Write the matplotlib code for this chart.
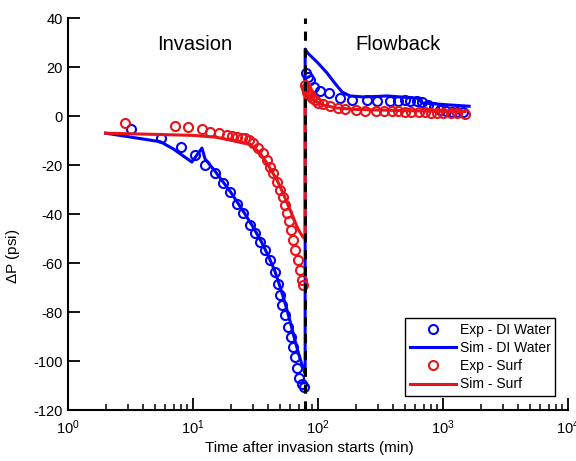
import numpy as np
import matplotlib
matplotlib.use('Agg')
import matplotlib.pyplot as plt

plt.rcParams['font.family'] = ['Liberation Sans', 'DejaVu Sans']
plt.rcParams['mathtext.default'] = 'regular'
plt.rcParams['axes.unicode_minus'] = False

t_switch = 79.0  # start of flowback (min)

# experimental, DI water
t_exp_di = [3.2, 5.5, 8.0, 10.4, 12.5, 15.0, 17.4, 19.8, 22.5, 25.0, 28.5, 31.3,
            34.3, 37.6, 41.3, 45.3, 47.5, 49.5, 52.0, 54.5, 57.5, 60.5, 63.0,
            65.5, 68.0, 71.0, 74.0, 77.0,
            80, 83, 86, 93, 103, 122, 150, 187, 247, 297, 377, 437, 497, 546,
            620, 680, 760, 850, 950, 1050, 1180, 1300, 1450]
p_exp_di = [-5.3, -8.8, -12.7, -15.9, -20.0, -23.3, -27.3, -31.0, -36.0, -39.6,
            -44.5, -47.8, -51.4, -54.7, -58.8, -63.7, -68.5, -73.1, -77.1, -81.2,
            -86.1, -90.2, -94.3, -98.4, -102.9, -106.9, -109.5, -110.6,
            17.5, 16.0, 14.5, 12.0, 10.2, 9.4, 7.3, 6.5, 6.5, 6.1, 6.1, 6.1, 6.5,
            6.1, 6.1, 5.7, 4.5, 3.5, 2.5, 2.0, 1.8, 1.6, 1.5]

# simulation, DI water
t_sim_di = [2, 5.5, 7, 9.8, 11.8, 12.5, 15, 20, 25, 30, 35, 40, 45, 50, 55, 60,
            65, 70, 75, 79,
            79.01, 82, 86, 98.5, 118, 136, 156, 180, 229, 300, 356, 453, 620,
            689, 893, 1140, 1620]
p_sim_di = [-7.0, -10.5, -13.5, -18.8, -13.1, -17.5, -22.5, -31.0, -38.5, -45.0,
            -51.0, -57.0, -63.0, -70.0, -77.0, -84.0, -91.0, -97.0, -102.0, -105.0,
            27.3, 26.0, 24.9, 22.0, 17.6, 13.5, 9.8, 8.2, 7.8, 8.0, 8.2, 7.8, 7.3,
            5.3, 4.9, 4.5, 4.0]

# experimental, surfactant
t_exp_surf = [2.86, 7.2, 9.1, 11.8, 13.7, 16.1, 18.7, 20.5, 22.5, 24.6, 26.0,
              28.0, 30.2, 33.1, 36.3, 39.0, 41.3, 43.6, 47.0, 49.7, 52.5, 54.5,
              56.5, 58.5, 60.5, 63.0, 66.0, 69.0, 71.8, 74.6, 76.5,
              79, 80, 81, 82, 83, 85, 87, 90, 94, 100, 110, 125, 145, 165, 200,
              240, 290, 340, 390, 440, 500, 560, 640, 720, 800, 900, 1000, 1150,
              1300, 1500]
p_exp_surf = [-2.9, -4.1, -4.5, -5.3, -6.5, -6.9, -7.8, -8.2, -8.6, -9.0, -9.0,
              -9.8, -11.0, -13.1, -15.1, -18.0, -20.8, -23.3, -26.9, -30.2, -33.1,
              -36.3, -39.6, -42.9, -46.5, -50.6, -54.7, -58.8, -62.9, -66.9, -69.0,
              12.5, 11.5, 10.5, 10.0, 9.5, 9.0, 8.5, 7.5, 6.5, 5.5, 4.8, 4.0, 3.3,
              2.8, 2.4, 2.2, 2.1, 2.0, 2.0, 1.9, 1.8, 1.7, 1.6, 1.5, 1.4, 1.3, 1.3,
              1.2, 1.1, 1.0]

# simulation, surfactant
t_sim_surf = [2, 5, 10, 15, 20, 25, 28.6, 34.3, 39, 47, 52.5, 57.5, 63, 69, 76, 79,
              79.01, 82, 86, 95, 110, 140, 200, 400, 800, 1500]
p_sim_surf = [-7.0, -7.5, -7.9, -8.6, -9.8, -11.0, -11.5, -15.1, -19.2, -26.1,
              -31.4, -36.3, -41.0, -46.0, -49.5, -50.0,
              12.0, 9.0, 7.5, 6.0, 4.5, 3.3, 2.7, 2.3, 2.0, 1.8]

fig = plt.figure(figsize=(5.76, 4.61), dpi=100)
ax = fig.add_axes([0.118, 0.1106, 0.868, 0.8503])

mk = dict(marker='o', ls='none', mfc='none', ms=6.5, mew=1.5)
ax.plot(t_exp_di, p_exp_di, mec='blue', label='Exp - DI Water', **mk)
ax.plot(t_sim_di, p_sim_di, color='blue', lw=2.2, label='Sim - DI Water')
ax.plot(t_exp_surf, p_exp_surf, mec='#e8141a', label='Exp - Surf', **mk)
ax.plot(t_sim_surf, p_sim_surf, color='#e8141a', lw=2.2, label='Sim - Surf')
ax.axvline(t_switch, color='black', ls=(0, (3, 2.5)), lw=2.2, zorder=5)

ax.set_xscale('log')
ax.set_xlim(1, 1e4)
ax.set_ylim(-120, 40)
ax.set_yticks(np.arange(-120, 41, 20))

ax.spines['top'].set_visible(False)
ax.spines['right'].set_visible(False)
for s in ['left', 'bottom']:
    ax.spines[s].set_linewidth(1.5)
ax.tick_params(which='major', direction='in', length=8.5, width=1.3, labelsize=10.5)
ax.tick_params(axis='x', which='major', pad=6)
ax.tick_params(which='minor', direction='in', length=4.5, width=1.1)
ax.tick_params(axis='y', which='minor', length=0)

ax.set_xlabel('Time after invasion starts (min)', fontsize=11)
ax.set_ylabel('$\\Delta$P (psi)', fontsize=11)
ax.xaxis.set_label_coords(0.482, -0.079)
ax.yaxis.set_label_coords(-0.092, 0.393)

ax.text(10.4, 29, 'Invasion', fontsize=14.5, ha='center', va='center')
ax.text(436, 29, 'Flowback', fontsize=14.5, ha='center', va='center')

leg = ax.legend(loc='lower right', bbox_to_anchor=(0.975, 0.035), borderaxespad=0,
                fontsize=10, handlelength=3.3, handletextpad=0.3,
                labelspacing=0.3, fancybox=False, edgecolor='black',
                framealpha=1, borderpad=0.35, numpoints=1)
leg.get_frame().set_linewidth(1.0)

plt.savefig('out.png', dpi=100)
